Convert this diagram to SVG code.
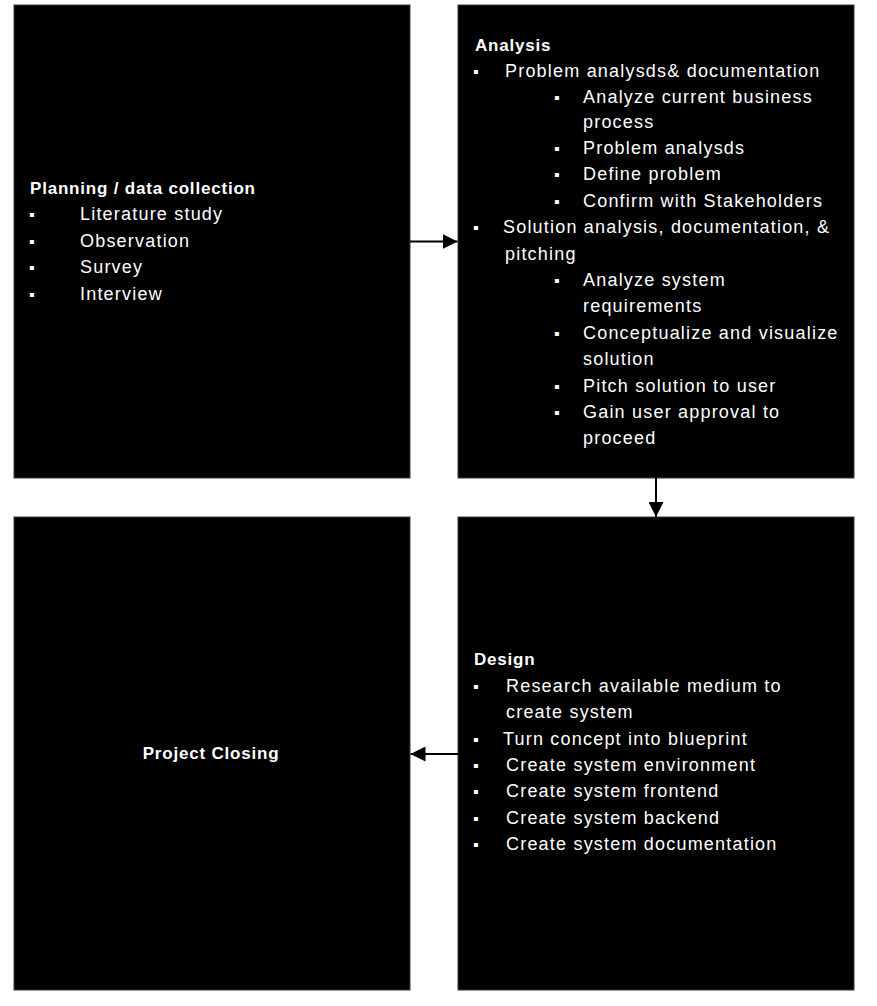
<svg xmlns="http://www.w3.org/2000/svg" width="877" height="1006" viewBox="0 0 877 1006">
<style>
.box{fill:#000;stroke:#3a3a3a;stroke-width:1}
.t{font-family:"Liberation Sans",Arial,sans-serif;font-size:18px;fill:#fff;letter-spacing:1.2px}
.b{font-family:"Liberation Sans",Arial,sans-serif;font-size:17px;font-weight:bold;fill:#fff;letter-spacing:0.8px}
.bul{font-family:"Liberation Sans",Arial,sans-serif;font-size:16px;fill:#fff}
.conn{stroke:#000;stroke-width:2;fill:none}
</style>
<defs>
<marker id="ah" markerUnits="userSpaceOnUse" markerWidth="15" markerHeight="15" refX="15" refY="7.5" orient="auto">
<path d="M0,0 L15,7.5 L0,15 Z" fill="#000"/>
</marker>
</defs>
<rect width="877" height="1006" fill="#fff"/>
<g id="planning">
<rect class="box" x="14" y="5" width="396" height="473"/>
<text class="b" x="30" y="194">Planning / data collection</text>
<text class="bul" x="29" y="220">▪</text>
<text class="t" x="80" y="220">Literature study</text>
<text class="bul" x="29" y="247">▪</text>
<text class="t" x="80" y="247">Observation</text>
<text class="bul" x="29" y="273">▪</text>
<text class="t" x="80" y="273">Survey</text>
<text class="bul" x="29" y="300">▪</text>
<text class="t" x="80" y="300">Interview</text>
</g>
<g id="analysis">
<rect class="box" x="458" y="5" width="396" height="473"/>
<text class="b" x="475" y="51">Analysis</text>
<text class="bul" x="473" y="77">▪</text>
<text class="t" x="505" y="77">Problem analysds&amp; documentation</text>
<text class="bul" x="554" y="103">▪</text>
<text class="t" x="583" y="103">Analyze current business</text>
<text class="t" x="583" y="128">process</text>
<text class="bul" x="554" y="154">▪</text>
<text class="t" x="583" y="154">Problem analysds</text>
<text class="bul" x="554" y="180">▪</text>
<text class="t" x="583" y="180">Define problem</text>
<text class="bul" x="554" y="207">▪</text>
<text class="t" x="583" y="207">Confirm with Stakeholders</text>
<text class="bul" x="473" y="233">▪</text>
<text class="t" x="503" y="233">Solution analysis, documentation, &amp;</text>
<text class="t" x="505" y="260">pitching</text>
<text class="bul" x="554" y="286">▪</text>
<text class="t" x="583" y="286">Analyze system</text>
<text class="t" x="583" y="312">requirements</text>
<text class="bul" x="554" y="339">▪</text>
<text class="t" x="583" y="339">Conceptualize and visualize</text>
<text class="t" x="583" y="365">solution</text>
<text class="bul" x="554" y="392">▪</text>
<text class="t" x="583" y="392">Pitch solution to user</text>
<text class="bul" x="554" y="418">▪</text>
<text class="t" x="583" y="418">Gain user approval to</text>
<text class="t" x="583" y="444">proceed</text>
</g>
<g id="closing">
<rect class="box" x="14" y="517" width="396" height="473"/>
<text class="b" x="211" y="759" text-anchor="middle">Project Closing</text>
</g>
<g id="design">
<rect class="box" x="458" y="517" width="396" height="473"/>
<text class="b" x="474" y="665">Design</text>
<text class="bul" x="473" y="692">▪</text>
<text class="t" x="506" y="692">Research available medium to</text>
<text class="t" x="506" y="718">create system</text>
<text class="bul" x="473" y="745">▪</text>
<text class="t" x="503" y="745">Turn concept into blueprint</text>
<text class="bul" x="473" y="771">▪</text>
<text class="t" x="506" y="771">Create system environment</text>
<text class="bul" x="473" y="797">▪</text>
<text class="t" x="506" y="797">Create system frontend</text>
<text class="bul" x="473" y="824">▪</text>
<text class="t" x="506" y="824">Create system backend</text>
<text class="bul" x="473" y="850">▪</text>
<text class="t" x="506" y="850">Create system documentation</text>
</g>
<g id="connectors">
<line class="conn" x1="410" y1="241.5" x2="457.5" y2="241.5" marker-end="url(#ah)"/>
<line class="conn" x1="656" y1="478" x2="656" y2="517" marker-end="url(#ah)"/>
<line class="conn" x1="458" y1="754" x2="410.5" y2="754" marker-end="url(#ah)"/>
</g>
</svg>
